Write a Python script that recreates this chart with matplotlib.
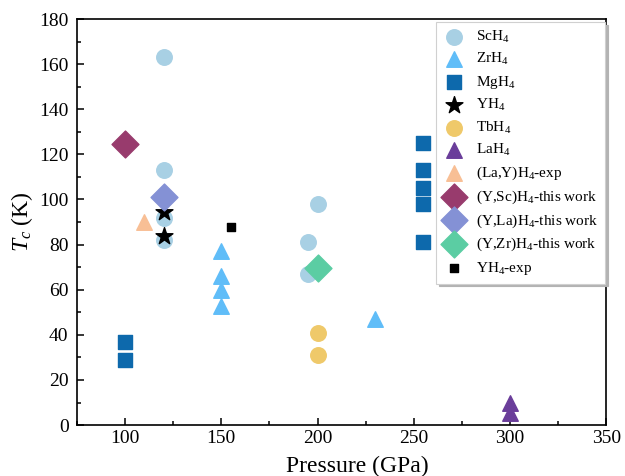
import numpy as np
import matplotlib
matplotlib.use("Agg")
import matplotlib.pyplot as plt

plt.rcParams['font.family'] = ['Liberation Serif', 'DejaVu Serif']
plt.rcParams['mathtext.fontset'] = 'custom'
plt.rcParams['mathtext.rm'] = 'Liberation Serif'
plt.rcParams['mathtext.it'] = 'Liberation Serif:italic'

# data
sc_p = [120, 120, 120, 120, 195, 195, 200]
sc_t = [163, 113, 92, 82, 81, 67, 98]
zr_p = [150, 150, 150, 150, 230]
zr_t = [77, 66, 60, 53, 47]
mg_p = [100, 100, 255, 255, 255, 255, 255]
mg_t = [37, 29, 125, 113, 105, 98, 81]
y_p = [120, 120]
y_t = [94.5, 84]
tb_p = [200, 200]
tb_t = [41, 31]
la_p = [300, 300]
la_t = [10, 5.5]
lay_exp_p = [110]
lay_exp_t = [90]
ysc_p = [100]
ysc_t = [124.5]
yla_p = [120]
yla_t = [101]
yzr_p = [200]
yzr_t = [69.5]
yexp_p = [155]
yexp_t = [88]

fig = plt.figure(figsize=(6.25, 4.76), dpi=100)
ax = fig.add_axes([0.123, 0.107, 0.847, 0.853])

s = 125
ax.scatter(sc_p, sc_t, s=s, marker="o", color="#A8D0E4", label="ScH$_4$", zorder=2)
ax.scatter(zr_p, zr_t, s=s, marker="^", color="#60BDF8", label="ZrH$_4$", zorder=2)
ax.scatter(mg_p, mg_t, s=s * 0.8, marker="s", color="#0D69AC", label="MgH$_4$", zorder=2)
ax.scatter(y_p, y_t, s=s * 1.3, marker="*", color="black", label="YH$_4$", zorder=3)
ax.scatter(tb_p, tb_t, s=s, marker="o", color="#EFC96A", label="TbH$_4$", zorder=2)
ax.scatter(la_p, la_t, s=s, marker="^", color="#6A3D9A", label="LaH$_4$", zorder=2)
ax.scatter(lay_exp_p, lay_exp_t, s=s, marker="^", color="#F8BF95", label="(La,Y)H$_4$-exp", zorder=2)
ax.scatter(ysc_p, ysc_t, s=s * 1.5, marker="D", color="#983B6D", label="(Y,Sc)H$_4$-this work", zorder=3)
ax.scatter(yla_p, yla_t, s=s * 1.5, marker="D", color="#8491D5", label="(Y,La)H$_4$-this work", zorder=3)
ax.scatter(yzr_p, yzr_t, s=s * 1.5, marker="D", color="#5BCDA3", label="(Y,Zr)H$_4$-this work", zorder=3)
ax.scatter(yexp_p, yexp_t, s=30, marker="s", color="black", label="YH$_4$-exp", zorder=3)

ax.set_xlim(75, 350)
ax.set_ylim(0, 180)
ax.set_xticks(np.arange(100, 351, 50))
ax.set_xticks(np.arange(75, 351, 25), minor=True)
ax.set_yticks(np.arange(0, 181, 20))
ax.set_yticks(np.arange(0, 181, 10), minor=True)
ax.tick_params(which="both", direction="in", top=False, right=False, labelsize=14, width=1.1)
ax.tick_params(which="major", length=5)
ax.tick_params(which="minor", length=3)
ax.tick_params(axis="y", pad=6)
for sp in ax.spines.values():
    sp.set_linewidth(1.2)

ax.set_xlabel("Pressure (GPa)", fontsize=17, labelpad=6)
ax.xaxis.set_label_coords(0.53, -0.075, transform=ax.transAxes)
ax.xaxis.label.set_va("top")
ax.set_ylabel("$T_c$ (K)", fontsize=17, labelpad=3)

leg = ax.legend(loc="upper right", bbox_to_anchor=(0.998, 0.993), fontsize=11,
                frameon=True, shadow={"color": "#b3b3b3", "alpha": 1}, fancybox=False,
                borderpad=0.45, labelspacing=0.42, handlelength=1.4,
                handletextpad=0.75, borderaxespad=0)
leg.get_frame().set_edgecolor("#d0d0d0")
leg.get_frame().set_linewidth(0.8)

fig.savefig("out.png", dpi=100)
